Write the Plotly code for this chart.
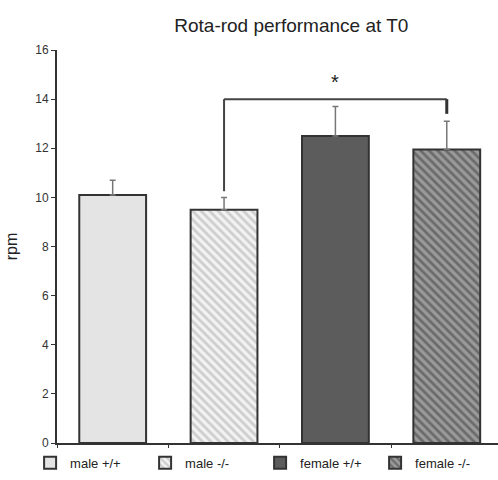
import plotly.graph_objects as go

categories = ["male +/+", "male -/-", "female +/+", "female -/-"]
means = [10.1, 9.5, 12.5, 11.95]
sem = [0.6, 0.5, 1.2, 1.15]
y_ticks = [0, 2, 4, 6, 8, 10, 12, 14, 16]

fills = ["#e4e4e4", "#f2f2f2", "#5c5c5c", "#9a9a9a"]
patterns = ["", "\\", "", "\\"]
pattern_fg = ["#e4e4e4", "#a8a8a8", "#5c5c5c", "#3a3a3a"]

fig = go.Figure()
for i, c in enumerate(categories):
    fig.add_trace(go.Bar(
        x=[c], y=[means[i]], name=c, width=0.6,
        marker=dict(color=fills[i], line=dict(color="#333333", width=2),
                    pattern=dict(shape=patterns[i], fgcolor=pattern_fg[i],
                                 bgcolor=fills[i], size=6, solidity=0.45)),
        error_y=dict(type="data", symmetric=False, array=[sem[i]], arrayminus=[0],
                     color="#777777", thickness=1.5, width=3),
    ))

# significance bracket between male -/- and female -/-
fig.add_shape(type="line", xref="x", yref="y", x0=1, x1=1, y0=10.25, y1=14.0,
              line=dict(color="#444444", width=2))
fig.add_shape(type="line", xref="x", yref="y", x0=1, x1=3, y0=14.0, y1=14.0,
              line=dict(color="#444444", width=2))
fig.add_shape(type="line", xref="x", yref="y", x0=3, x1=3, y0=13.4, y1=14.0,
              line=dict(color="#333333", width=3))
fig.add_annotation(x=2, y=14.15, xref="x", yref="y", text="*", showarrow=False,
                   yanchor="bottom", font=dict(size=20, color="#222222"))

fig.update_layout(
    width=498, height=480,
    margin=dict(l=57, r=0, t=50, b=37, autoexpand=False),
    paper_bgcolor="white", plot_bgcolor="white",
    title=dict(text="Rota-rod performance at T0", x=0.585, xanchor="center",
               y=0.948, yanchor="middle",
               font=dict(family="Liberation Sans, Arial", size=19, color="#222222")),
    font=dict(family="Liberation Sans, Arial", color="#333333"),
    showlegend=True,
    legend=dict(orientation="h", x=-0.061, y=-0.012, xanchor="left", yanchor="top",
                font=dict(size=13, color="#222222"), entrywidth=70,
                itemsizing="constant", traceorder="normal", tracegroupgap=0),
)
fig.update_xaxes(
    type="category", range=[-0.5, 3.46], showticklabels=False,
    ticks="outside", tickson="boundaries", ticklen=5, tickcolor="#333333",
    showline=True, linecolor="#333333", linewidth=2, showgrid=False, zeroline=False,
)
fig.update_yaxes(
    range=[0, 16], tickvals=y_ticks, ticks="outside", ticklen=4, tickcolor="#333333",
    tickfont=dict(size=12, color="#333333"),
    showline=True, linecolor="#333333", linewidth=2, showgrid=False, zeroline=False,
    title=dict(text="rpm", font=dict(size=16, color="#222222"), standoff=14),
)

fig.write_html("out.html", config={"displayModeBar": False},
               post_script="document.body.style.margin='0';")
